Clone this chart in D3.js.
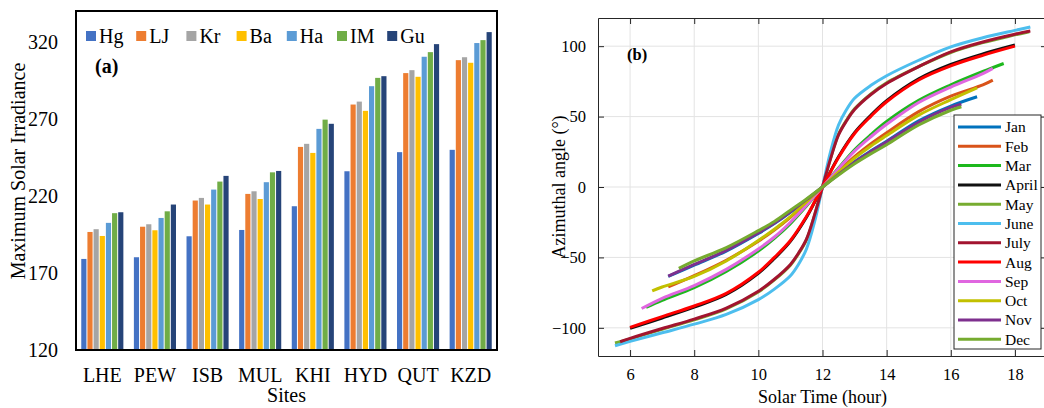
<!DOCTYPE html>
<html>
<head>
<meta charset="utf-8">
<script src="https://cdn.jsdelivr.net/npm/d3@7/dist/d3.min.js"></script>
<style>
  html, body { margin: 0; padding: 0; background: #fff; }
  svg { display: block; }
  text { font-family: "Liberation Serif", "Times New Roman", serif; fill: #000; }
</style>
</head>
<body>
<svg id="chart" width="1044" height="408"></svg>
<script>
// ---------- Panel (a): maximum solar irradiance per site ----------
const sites = ["LHE", "PEW", "ISB", "MUL", "KHI", "HYD", "QUT", "KZD"];
const models = ["Hg", "LJ", "Kr", "Ba", "Ha", "IM", "Gu"];
const hgValues = [179.1, 180.2, 193.8, 197.9, 213.3, 236.0, 248.4, 249.9];
const ljValues = [196.6, 200.0, 217.0, 221.3, 251.8, 279.3, 299.7, 308.1];
const krValues = [198.4, 201.6, 218.7, 223.0, 253.8, 281.2, 301.6, 310.0];
const baValues = [194.0, 197.7, 214.4, 218.0, 247.9, 275.2, 297.3, 306.4];
const haValues = [202.5, 205.7, 224.1, 228.9, 263.5, 291.2, 310.3, 319.2];
const imValues = [208.8, 210.0, 229.3, 235.3, 269.5, 296.6, 313.3, 321.1];
const guValues = [209.4, 214.4, 233.0, 236.2, 266.8, 297.7, 318.5, 326.3];
const irradianceTicks = [120, 170, 220, 270, 320];

// ---------- Panel (b): solar azimuth angle over the day, per month ----------
const monthNames = ["Jan", "Feb", "Mar", "April", "May", "June", "July", "Aug", "Sep", "Oct", "Nov", "Dec"];
const janAz = [[7.19,-63.5],[8,-55.5],[9,-45.5],[10,-33],[10.5,-26],[11,-18],[11.5,-9.2],[12,0],[12.5,9.2],[13,18],[13.5,25.5],[14,32.5],[15,47],[16,57.5],[16.82,64.1]];
const febAz = [[7.19,-71],[8,-63],[9,-52],[10,-38.5],[10.5,-30.5],[11,-21.5],[11.5,-11],[12,0],[12.5,11],[13,21.5],[13.5,30.5],[14,38.5],[15,53.5],[16,64.5],[17,72.5],[17.31,75.9]];
const marAz = [[6.5,-85.5],[7,-80.5],[8,-71.5],[9,-60],[10,-45.5],[10.5,-36.5],[11,-26],[11.5,-13.5],[12,0],[12.5,13.5],[13,26.5],[13.5,37],[14,46.5],[15,61.5],[16,72.5],[17,82],[17.65,87.7]];
const aprAz = [[6,-100.3],[7,-93],[8,-85.3],[9,-76.3],[10,-61.3],[10.5,-50.8],[11,-38.6],[11.5,-21.5],[11.75,-11],[12,0],[12.25,11],[12.5,21.5],[13,38.6],[13.5,50.8],[14,61.3],[15,76.8],[16,87],[17,94.5],[18,100.8]];
const mayAz = [[5.53,-110.8],[6,-107.8],[7,-101],[8,-94.3],[9,-86.5],[10,-74.5],[10.5,-66],[11,-55.5],[11.25,-47.5],[11.5,-37.5],[11.75,-20.3],[12,0],[12.25,20.3],[12.5,37.5],[12.75,47.5],[13,55.5],[13.5,66],[14,74],[15,85.5],[16,95.5],[17,102.5],[18,108],[18.45,110.3]];
const junAz = [[5.53,-112.7],[6,-109.6],[7,-103.5],[8,-97.4],[9,-90.5],[10,-80],[10.5,-72.5],[11,-63],[11.25,-55],[11.5,-44],[11.75,-25],[12,0],[12.25,25],[12.5,44],[12.75,55],[13,63],[13.5,72],[14,79],[15,90],[16,99.5],[17,106],[18,111.2],[18.48,113.6]];
const julAz = [[5.69,-109.9],[6,-107.5],[7,-100.5],[8,-93.8],[9,-86],[10,-74],[10.5,-65.5],[11,-55],[11.25,-47],[11.5,-37],[11.75,-20],[12,0],[12.25,20],[12.5,37],[12.75,47],[13,55],[13.5,65.5],[14,73.5],[15,85.5],[16,96],[17,103],[18,108.5],[18.48,110.7]];
const augAz = [[6,-99.7],[7,-92],[8,-84.5],[9,-75.5],[10,-60.5],[10.5,-50],[11,-38],[11.5,-21],[11.75,-10.7],[12,0],[12.25,10.7],[12.5,21],[13,38],[13.5,50],[14,60.5],[15,76],[16,86],[17,93.5],[18,100]];
const sepAz = [[6.36,-86.3],[7,-79],[8,-70],[9,-58.5],[10,-44],[10.5,-35.5],[11,-25],[11.5,-13],[12,0],[12.5,13],[13,25.5],[13.5,35.5],[14,44.5],[15,60],[16,71],[17,80.5],[17.31,84.2]];
const octAz = [[6.69,-73.8],[7,-71],[8,-63.5],[9,-52.5],[10,-38],[10.5,-30],[11,-21],[11.5,-10.5],[12,0],[12.5,10.5],[13,20.5],[13.5,29],[14,36.5],[15,51],[16,62],[16.82,70.4]];
const novAz = [[7.19,-63.2],[8,-55],[9,-45],[10,-32.5],[10.5,-25.5],[11,-17.5],[11.5,-9],[12,0],[12.5,9],[13,17.5],[13.5,25],[14,32],[15,46],[16,56.5],[16.33,58.7]];
const decAz = [[7.52,-57.8],[8,-52.5],[9,-43],[10,-31],[10.5,-24.5],[11,-16.5],[11.5,-8.5],[12,0],[12.5,8.5],[13,16.5],[13.5,23.5],[14,30],[15,44],[16,54.5],[16.33,57]];
const hourTicks = [6, 8, 10, 12, 14, 16, 18];
const angleTicks = [-100, -50, 0, 50, 100];

const svg = d3.select("#chart");

// ===== Panel (a) =====
const seriesA = [hgValues, ljValues, krValues, baValues, haValues, imValues, guValues];
const barColors = ["#4472C4", "#ED7D31", "#A5A5A5", "#FFC000", "#5B9BD5", "#70AD47", "#264478"];
const boxA = { left: 76, right: 497, top: 11, bottom: 350 };

const xSite = d3.scaleBand().domain(sites).range([boxA.left, boxA.right]).paddingInner(0.2).paddingOuter(0.1);
const xModel = d3.scaleBand().domain(models).range([0, xSite.bandwidth()]).paddingInner(0.16);
const yIrr = d3.scaleLinear().domain([120, 340]).range([boxA.bottom, boxA.top]);

const gA = svg.append("g");

const barRows = [];
sites.forEach((s, i) => models.forEach((m, j) => barRows.push({ site: s, model: m, value: seriesA[j][i], color: barColors[j] })));

gA.append("g").selectAll("rect").data(barRows).join("rect")
  .attr("x", d => xSite(d.site) + xModel(d.model))
  .attr("width", xModel.bandwidth())
  .attr("y", d => yIrr(d.value))
  .attr("height", d => yIrr(120) - yIrr(d.value))
  .attr("fill", d => d.color);

// y axis labels (no tick marks)
const yAxisA = d3.axisLeft(yIrr).tickValues(irradianceTicks).tickSize(0).tickPadding(18);
gA.append("g").attr("transform", `translate(${boxA.left},0)`).call(yAxisA)
  .call(g => g.select(".domain").remove())
  .call(g => g.selectAll("text").attr("font-size", 20).attr("font-family", "Liberation Serif").attr("fill", "#000"));

// x axis category labels
const xAxisA = d3.axisBottom(xSite).tickSize(0).tickPadding(18);
gA.append("g").attr("transform", `translate(0,${boxA.bottom})`).call(xAxisA)
  .call(g => g.select(".domain").remove())
  .call(g => g.selectAll("text").attr("font-size", 20).attr("font-family", "Liberation Serif").attr("fill", "#000"));

// frame
gA.append("rect").attr("x", boxA.left).attr("y", boxA.top)
  .attr("width", boxA.right - boxA.left).attr("height", boxA.bottom - boxA.top)
  .attr("fill", "none").attr("stroke", "#000").attr("stroke-width", 2);

gA.append("text").attr("x", (boxA.left + boxA.right) / 2).attr("y", 402)
  .attr("text-anchor", "middle").attr("font-size", 20).text("Sites");
gA.append("text").attr("transform", "translate(25,171) rotate(-90)")
  .attr("text-anchor", "middle").attr("font-size", 20).text("Maximum Solar Irradiance");
gA.append("text").attr("x", 95).attr("y", 73).attr("font-size", 20).attr("font-weight", "bold").text("(a)");

// legend
const legA = gA.append("g").selectAll("g").data(models).join("g")
  .attr("transform", (d, i) => `translate(${86 + i * 50.2},31)`);
legA.append("rect").attr("width", 10).attr("height", 10).attr("fill", (d, i) => barColors[i]);
legA.append("text").attr("x", 13).attr("y", 12).attr("font-size", 20).text(d => d);

// ===== Panel (b) =====
const monthSeries = [janAz, febAz, marAz, aprAz, mayAz, junAz, julAz, augAz, sepAz, octAz, novAz, decAz];
const monthColors = ["#0072BD", "#D95319", "#1DB81D", "#111111", "#77AC30", "#4DBEEE", "#A2142F", "#FF0000", "#E066E0", "#C2C000", "#7E2F8E", "#76AB2F"];
const boxB = { left: 598, right: 1047, top: 18, bottom: 356 };

const xHour = d3.scaleLinear().domain([5, 19]).range([boxB.left, boxB.right]);
const yAng = d3.scaleLinear().domain([-120, 120]).range([boxB.bottom, boxB.top]);

const gB = svg.append("g");

// grid
gB.append("g").selectAll("line").data(hourTicks).join("line")
  .attr("x1", d => xHour(d)).attr("x2", d => xHour(d))
  .attr("y1", boxB.top).attr("y2", boxB.bottom)
  .attr("stroke", "#e3e3e3").attr("stroke-width", 1);
gB.append("g").selectAll("line").data(angleTicks).join("line")
  .attr("y1", d => yAng(d)).attr("y2", d => yAng(d))
  .attr("x1", boxB.left).attr("x2", boxB.right)
  .attr("stroke", "#e3e3e3").attr("stroke-width", 1);

// curves
svg.append("defs").append("clipPath").attr("id", "clipB")
  .append("rect").attr("x", boxB.left).attr("y", boxB.top)
  .attr("width", boxB.right - boxB.left).attr("height", boxB.bottom - boxB.top);

const line = d3.line().x(d => xHour(d[0])).y(d => yAng(d[1])).curve(d3.curveCatmullRom.alpha(0.5));
gB.append("g").attr("clip-path", "url(#clipB)")
  .selectAll("path").data(monthSeries).join("path")
  .attr("d", line).attr("fill", "none")
  .attr("stroke", (d, i) => monthColors[i]).attr("stroke-width", 3)
  .attr("stroke-linejoin", "round");

// axes with inward ticks on all sides
const axisColor = "#262626";
const styleAxis = g => {
  g.select(".domain").attr("stroke", axisColor);
  g.selectAll(".tick line").attr("stroke", axisColor);
  g.selectAll("text").attr("font-size", 16.5).attr("font-family", "Liberation Serif").attr("fill", "#000");
};
gB.append("g").attr("transform", `translate(0,${boxB.bottom})`)
  .call(d3.axisBottom(xHour).tickValues(hourTicks).tickSizeInner(-6).tickSizeOuter(0).tickPadding(12))
  .call(styleAxis);
gB.append("g").attr("transform", `translate(${boxB.left},0)`)
  .call(d3.axisLeft(yAng).tickValues(angleTicks).tickSizeInner(-6).tickSizeOuter(0).tickPadding(12))
  .call(styleAxis);
gB.append("g").attr("transform", `translate(0,${boxB.top})`)
  .call(d3.axisTop(xHour).tickValues(hourTicks).tickSizeInner(-6).tickSizeOuter(0).tickFormat(""))
  .call(styleAxis);
gB.append("g").attr("transform", `translate(${boxB.right},0)`)
  .call(d3.axisRight(yAng).tickValues(angleTicks).tickSizeInner(-6).tickSizeOuter(0).tickFormat(""))
  .call(styleAxis);

gB.append("text").attr("x", (boxB.left + boxB.right) / 2).attr("y", 403)
  .attr("text-anchor", "middle").attr("font-size", 18).text("Solar Time (hour)");
gB.append("text").attr("transform", `translate(565,${(boxB.top + boxB.bottom) / 2}) rotate(-90)`)
  .attr("text-anchor", "middle").attr("font-size", 18).text("Azimuthal angle (°)");
gB.append("text").attr("x", 627).attr("y", 60).attr("font-size", 16.5).attr("font-weight", "bold").text("(b)");

// legend
const legB = gB.append("g").attr("transform", "translate(954,115)");
legB.append("rect").attr("width", 87).attr("height", 234)
  .attr("fill", "#fff").attr("stroke", axisColor).attr("stroke-width", 1);
const legRows = legB.selectAll("g").data(monthNames).join("g")
  .attr("transform", (d, i) => `translate(0,${12 + i * 19.3})`);
legRows.append("line").attr("x1", 4).attr("x2", 47).attr("y1", 0).attr("y2", 0)
  .attr("stroke", (d, i) => monthColors[i]).attr("stroke-width", 3);
legRows.append("text").attr("x", 51).attr("y", 0).attr("dy", "0.35em").attr("font-size", 15.5).text(d => d);
</script>
</body>
</html>
